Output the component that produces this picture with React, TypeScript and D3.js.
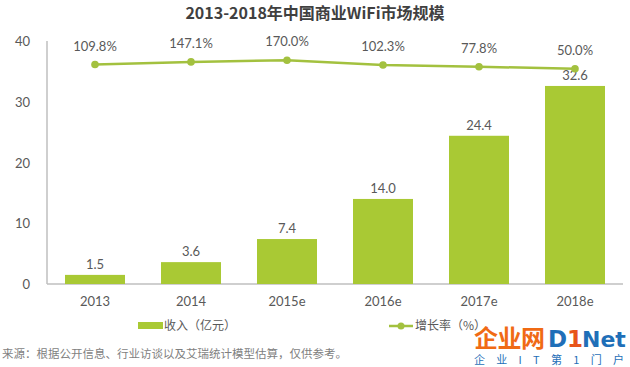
import React from "react";
import * as d3 from "d3";

const categories = ["2013", "2014", "2015e", "2016e", "2017e", "2018e"];
const revenue = [1.5, 3.6, 7.4, 14.0, 24.4, 32.6];
const growth = [109.8, 147.1, 170.0, 102.3, 77.8, 50.0];
const yTicks = [0, 10, 20, 30, 40];

const W = 630;
const H = 367;
const BAR = "#a9c934";
const LINE = "#a3c13f";
const TXT = "#595959";
const NUM_FONT = "Lato, 'Noto Sans', sans-serif";
const CJK_FONT = "'Noto Sans CJK SC', sans-serif";
const LOGO_FONT = "'DejaVu Sans', sans-serif";

export default function App() {
  const x = d3.scaleBand<string>().domain(categories).range([47, 623]).paddingInner(0.375).paddingOuter(0.1875);
  const y = d3.scaleLinear().domain([0, 40]).range([284, 41]);
  const yp = d3.scaleLinear().domain([50, 170]).range([68.7, 60.3]);
  const cx = (c: string) => (x(c) as number) + x.bandwidth() / 2;
  const line = d3
    .line<number>()
    .x((_, i) => cx(categories[i]))
    .y((d) => yp(d));

  return (
    <svg width={W} height={H} style={{ position: "absolute", left: 0, top: 0, background: "#fff" }}>
      <rect width={W} height={H} fill="#fff" />
      <text x={315} y={19} textAnchor="middle" fontFamily={CJK_FONT} fontWeight="bold" fontSize={16} fill="#404040">
        2013-2018年中国商业WiFi市场规模
      </text>

      {yTicks.map((t) => (
        <text key={t} x={30} y={y(t) + 5} textAnchor="end" fontFamily={NUM_FONT} fontSize={13} fill={TXT}>
          {t}
        </text>
      ))}
      <line x1={47} x2={47} y1={41} y2={284} stroke="#bfbfbf" strokeWidth={1.5} />
      <line x1={47} x2={623} y1={284} y2={284} stroke="#bfbfbf" strokeWidth={1.5} />

      {categories.map((c, i) => (
        <g key={c}>
          <rect x={x(c)} y={y(revenue[i])} width={x.bandwidth()} height={y(0) - y(revenue[i])} fill={BAR} />
          <text x={cx(c)} y={y(revenue[i]) - 6} textAnchor="middle" fontFamily={NUM_FONT} fontSize={13} fill={TXT}>
            {revenue[i].toFixed(1)}
          </text>
          <text x={cx(c)} y={306} textAnchor="middle" fontFamily={NUM_FONT} fontSize={13} fill={TXT}>
            {c}
          </text>
        </g>
      ))}

      <path d={line(growth) || ""} fill="none" stroke={LINE} strokeWidth={2.5} />
      {growth.map((g, i) => (
        <g key={i}>
          <circle cx={cx(categories[i])} cy={yp(g)} r={3.8} fill={LINE} />
          <text x={cx(categories[i])} y={yp(g) - 14} textAnchor="middle" fontFamily={NUM_FONT} fontSize={13} fill={TXT}>
            {g.toFixed(1)}%
          </text>
        </g>
      ))}

      {/* legend */}
      <rect x={138} y={322} width={25} height={7} fill={BAR} />
      <text x={164} y={330} fontFamily={CJK_FONT} fontSize={12} fill={TXT}>
        收入（亿元）
      </text>
      <line x1={389} x2={413} y1={326} y2={326} stroke={LINE} strokeWidth={2.5} />
      <circle cx={401} cy={326} r={3.5} fill={LINE} />
      <text x={415} y={330} fontFamily={CJK_FONT} fontSize={12} fill={TXT}>
        增长率（%）
      </text>

      <text x={2} y={358} fontFamily={CJK_FONT} fontSize={11.5} fill="#7f7f7f">
        来源：根据公开信息、行业访谈以及艾瑞统计模型估算，仅供参考。
      </text>

      {/* watermark */}
      <text x={474} y={347} fontFamily={CJK_FONT} fontWeight="bold" fontSize={24} fill="#f06a14" textLength={71}>
        企业网
      </text>
      <text x={548} y={347} fontFamily={LOGO_FONT} fontWeight="bold" fontSize={23} fill="#1f6fb8">
        D
      </text>
      <text x={567} y={347} fontFamily={LOGO_FONT} fontWeight="bold" fontSize={23} fill="#e8541a">
        1
      </text>
      <text x={582} y={347} fontFamily={LOGO_FONT} fontWeight="bold" fontSize={22} fill="#1f6fb8">
        Net
      </text>
      <text x={474} y={364} fontFamily={CJK_FONT} fontSize={11} fill="#1f6fb8" textLength={150}>
        企 业 I T 第 1 门 户
      </text>
    </svg>
  );
}
